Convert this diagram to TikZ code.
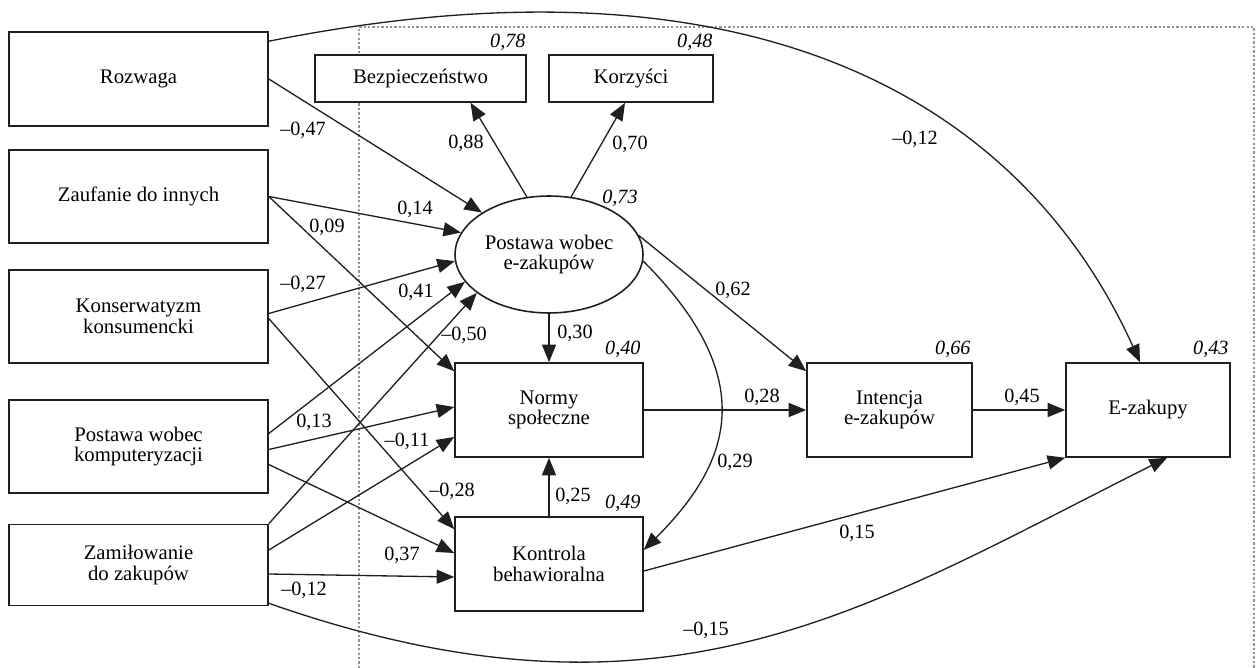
\documentclass[tikz,border=0pt]{standalone}
\usepackage{fontspec}
\setmainfont{Liberation Serif}
\usetikzlibrary{shapes.geometric,arrows.meta,calc}
\colorlet{frameGray}{black!42}
\colorlet{lineDark}{black!88}
\tikzset{
  box/.style={draw=lineDark,line width=0.9pt,fill=white,rectangle,inner sep=0pt,align=center,
    font=\fontsize{11.8}{11.6}\selectfont},
  latent/.style={box,ellipse},
  path/.style={lineDark,line width=0.75pt,-{Triangle[length=10pt,width=8pt]}},
  coef/.style={inner sep=0.5pt,font=\fontsize{11.5}{12}\selectfont},
  rsq/.style={coef,font=\fontsize{11.5}{12}\selectfont\itshape},
}
\NewDocumentCommand\Coef{mmm}%
{%
\node[coef] (#1) at (#2) {#3};%
}

\begin{document}
\begin{tikzpicture}[x=0.02cm,y=-0.02cm]
\useasboundingbox (0,0) rectangle (1256,668);
\draw[frameGray,line width=1.4pt,dash pattern=on 1.3pt off 1.2pt] (359,668) -- (359,27) -- (1254,27) -- (1254,668);

% predictors
\node[box,minimum width=5.18cm,minimum height=1.88cm] (roz) at (138.5,79) {Rozwaga};
\node[box,minimum width=5.18cm,minimum height=1.86cm] (zau) at (138.5,196.5) {Zaufanie do innych};
\node[box,minimum width=5.18cm,minimum height=1.86cm] (kon) at (138.5,316.5) {Konserwatyzm\\konsumencki};
\node[box,minimum width=5.18cm,minimum height=1.86cm] (pkomp) at (138.5,446.5) {Postawa wobec\\komputeryzacji};
\node[box,minimum width=5.18cm,minimum height=1.62cm] (zam) at (138.5,565) {Zamiłowanie\\do zakupów};

% model
\node[box,minimum width=4.22cm,minimum height=0.94cm] (bez) at (420.5,78.5) {Bezpieczeństwo};
\node[box,minimum width=3.28cm,minimum height=0.94cm] (kor) at (631,78.5) {Korzyści};
\node[latent,minimum width=3.76cm,minimum height=2.34cm] (att) at (549,254.5) {Postawa wobec\\e-zakupów};
\node[box,minimum width=3.76cm,minimum height=1.88cm] (norm) at (549,410) {Normy\\społeczne};
\node[box,minimum width=3.76cm,minimum height=1.88cm] (kontr) at (549,564) {Kontrola\\behawioralna};
\node[box,minimum width=3.3cm,minimum height=1.88cm] (int) at (889.5,410) {Intencja\\e-zakupów};
\node[box,minimum width=3.28cm,minimum height=1.88cm] (ezak) at (1148,410) {E-zakupy};

% explained variance
\node[rsq,anchor=south east] (r2bez) at ($(bez.north east)+(0,-2)$) {0,78};
\node[rsq,anchor=south east] (r2kor) at ($(kor.north east)+(0,-2)$) {0,48};
\node[rsq] (r2att) at (620,198) {0,73};
\node[rsq,anchor=south east] (r2norm) at ($(norm.north east)+(-2,-3)$) {0,40};
\node[rsq,anchor=south east] (r2kontr) at ($(kontr.north east)+(-2,-3)$) {0,49};
\node[rsq,anchor=south east] (r2int) at ($(int.north east)+(-1,-3)$) {0,66};
\node[rsq,anchor=south east] (r2ezak) at ($(ezak.north east)+(-1,-3)$) {0,43};

% paths
\draw[path] (roz.east) -- (att.148);
\draw[path] ($(roz.north east)+(0,10)$) .. controls +(500,-100) and +(-113,-250) .. ($(ezak.north)+(-8,0)$);
\draw[path] (zau.east) -- (att.166);
\draw[path] (zau.east) -- ($(norm.north west)+(0,9)$);
\draw[path] ($(kon.east)+(0,-3)$) -- (att.184);
\draw[path] ($(kon.east)+(0,2)$) -- ($(kontr.north west)+(0,13)$);
\draw[path] ($(pkomp.east)+(0,-13)$) -- (att.198);
\draw[path] ($(pkomp.east)+(0,3)$) -- ($(norm.west)+(0,-3)$);
\draw[path] ($(pkomp.east)+(0,18)$) -- ($(kontr.west)+(0,-11)$);
\draw[path] (zam.north east) -- (att.208);
\draw[path] ($(zam.east)+(0,-15)$) -- ($(norm.west)+(0,27)$);
\draw[path] ($(zam.east)+(0,9)$) -- ($(kontr.west)+(0,13)$);
\draw[path] ($(zam.south east)+(0,-3)$) .. controls +(400,140) and +(-300,150) .. ($(ezak.south)+(19,0)$);
\draw[path] (att.111) -- ($(bez.south)+(50,0)$);
\draw[path] (att.69) -- ($(kor.south)+(-6,0)$);
\draw[path] (att.south) -- (norm.north);
\draw[path] (att.12) -- ($(int.north west)+(0,9)$);
\draw[path] (att.-4) .. controls +(121,121) and +(84,-84) .. ($(kontr.east)+(0,-14)$);
\draw[path] (norm.east) -- (int.west);
\draw[path] (kontr.north) -- (norm.south);
\draw[path] (int.east) -- (ezak.west);
\draw[path] ($(kontr.east)+(0,7)$) -- (ezak.south west);

% coefficients
\Coef{c047}{303,130}{–0,47}
\Coef{c012a}{915,139}{–0,12}
\Coef{c014}{415,209}{0,14}
\Coef{c009}{327,227}{0,09}
\Coef{c027}{303,284}{–0,27}
\Coef{c041}{416,292}{0,41}
\Coef{c050}{464,335}{–0,50}
\Coef{c013}{314,422}{0,13}
\Coef{c011}{407,441}{–0,11}
\Coef{c028a}{452,491}{–0,28}
\Coef{c037}{402,555}{0,37}
\Coef{c012b}{304,590}{–0,12}
\Coef{c015a}{706,630}{–0,15}
\Coef{c015b}{857,533}{0,15}
\Coef{c025}{573,496}{0,25}
\Coef{c029}{735,462}{0,29}
\Coef{c030}{575,333}{0,30}
\Coef{c062}{733,290}{0,62}
\Coef{c028b}{762,397}{0,28}
\Coef{c088}{466,143}{0,88}
\Coef{c070}{630,144}{0,70}
\Coef{c045}{1022,397}{0,45}
\end{tikzpicture}
\end{document}
